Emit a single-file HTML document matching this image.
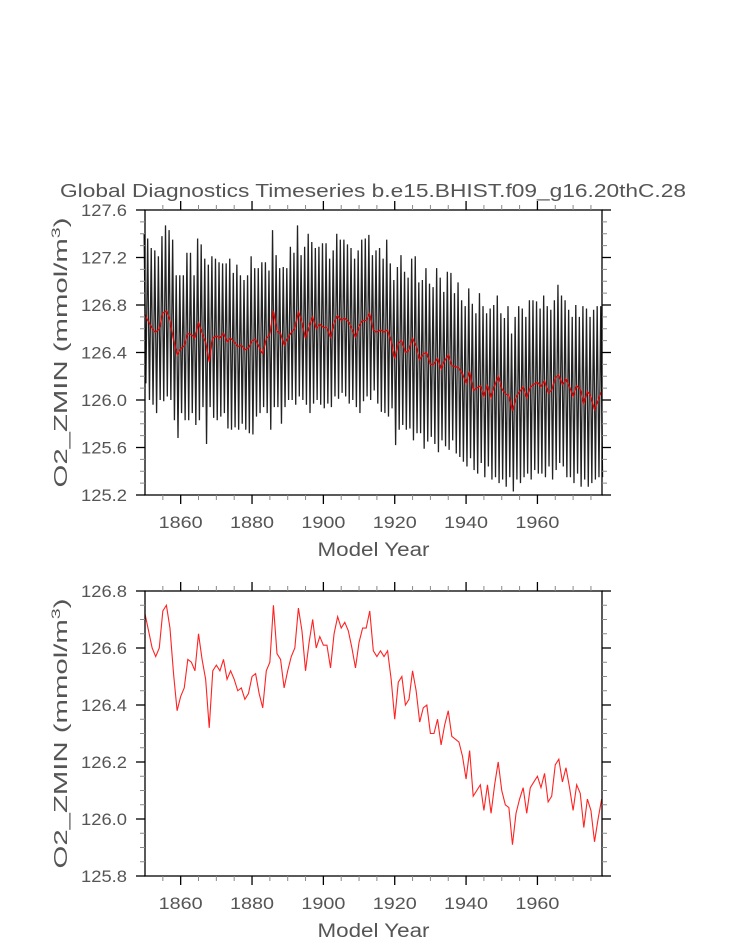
<!DOCTYPE html>
<html><head><meta charset="utf-8"><style>
html,body{margin:0;padding:0;background:#fff;}
svg{display:block;font-family:"Liberation Sans",sans-serif;}
</style></head><body>
<svg id="chart" width="733" height="945" viewBox="0 0 733 945" xmlns="http://www.w3.org/2000/svg">
<text x="373" y="197" text-anchor="middle" font-size="18" fill="#555" textLength="626" lengthAdjust="spacingAndGlyphs">Global Diagnostics Timeseries b.e15.BHIST.f09_g16.20thC.28</text>
<g id="top"></g>
<g id="bot"></g>
</svg>
<script>
const annualMean = [126.72,126.66,126.60,126.57,126.60,126.73,126.75,126.67,126.51,126.38,126.43,126.46,126.56,126.55,126.52,126.65,126.56,126.49,126.32,126.52,126.54,126.52,126.56,126.49,126.52,126.49,126.45,126.46,126.42,126.44,126.50,126.51,126.44,126.39,126.52,126.55,126.75,126.58,126.56,126.46,126.52,126.57,126.60,126.74,126.66,126.52,126.62,126.70,126.60,126.64,126.61,126.61,126.53,126.65,126.71,126.67,126.69,126.66,126.60,126.53,126.62,126.67,126.67,126.73,126.59,126.57,126.59,126.57,126.59,126.49,126.35,126.48,126.50,126.40,126.42,126.52,126.45,126.34,126.39,126.40,126.30,126.30,126.35,126.26,126.33,126.38,126.29,126.28,126.27,126.22,126.14,126.24,126.08,126.10,126.12,126.03,126.12,126.02,126.12,126.20,126.10,126.05,126.04,125.91,126.02,126.07,126.11,126.02,126.11,126.13,126.15,126.11,126.16,126.06,126.08,126.19,126.21,126.13,126.18,126.11,126.03,126.12,126.09,125.97,126.07,126.03,125.92,126.00,126.07];
const annualMax = [127.40,127.36,127.28,127.26,127.21,127.38,127.47,127.43,127.35,127.05,127.05,127.05,127.24,127.24,127.05,127.36,127.31,127.19,127.14,127.21,127.19,127.16,127.15,127.15,127.19,127.07,127.14,127.05,127.01,127.05,127.21,127.11,127.11,127.16,127.16,127.09,127.43,127.22,127.11,127.12,127.11,127.29,127.24,127.47,127.22,127.29,127.40,127.33,127.28,127.29,127.32,127.32,127.19,127.26,127.40,127.35,127.35,127.31,127.28,127.19,127.26,127.35,127.36,127.39,127.22,127.26,127.28,127.19,127.35,127.15,127.01,127.12,127.22,127.08,127.03,127.19,127.21,126.99,127.01,127.11,126.98,126.95,127.11,127.03,126.91,127.08,127.07,126.90,126.99,126.84,126.79,126.94,126.81,126.73,126.90,126.79,126.73,126.77,126.80,126.88,126.73,126.69,126.79,126.56,126.70,126.79,126.77,126.70,126.84,126.84,126.83,126.77,126.88,126.79,126.76,126.84,126.97,126.88,126.84,126.76,126.70,126.80,126.70,126.79,126.77,126.70,126.76,126.79,126.79];
const annualMin = [126.14,126.00,125.96,125.89,126.00,125.99,126.03,126.00,125.83,125.68,125.89,125.83,125.83,125.89,125.79,125.83,125.94,125.63,125.94,125.85,125.83,125.86,125.89,125.76,125.75,125.77,125.75,125.80,125.75,125.72,125.71,125.86,125.89,125.94,125.89,125.75,125.94,125.94,125.80,125.94,126.00,126.00,125.96,126.03,126.00,125.96,125.89,125.97,126.00,125.96,125.93,125.97,125.94,126.03,126.01,126.06,126.03,125.97,126.00,125.94,125.89,125.99,126.03,126.00,126.08,125.97,125.90,125.89,125.86,125.93,125.62,125.75,125.79,125.75,125.76,125.66,125.72,125.72,125.59,125.65,125.69,125.63,125.56,125.66,125.61,125.58,125.66,125.55,125.52,125.48,125.44,125.51,125.41,125.38,125.47,125.35,125.44,125.33,125.35,125.30,125.33,125.27,125.35,125.23,125.33,125.30,125.35,125.38,125.33,125.41,125.38,125.38,125.35,125.44,125.33,125.41,125.47,125.44,125.35,125.35,125.30,125.38,125.27,125.33,125.27,125.30,125.33,125.35,125.35];
const startYear = 1850;
const xTickLabels = [1860,1880,1900,1920,1940,1960];
const topYTicks = [125.2,125.6,126.0,126.4,126.8,127.2,127.6];
const botYTicks = [125.8,126.0,126.2,126.4,126.6,126.8];

const NS = "http://www.w3.org/2000/svg";
function mk(tag, attrs, parent){const e=document.createElementNS(NS,tag);for(const k in attrs)e.setAttribute(k,attrs[k]);parent.appendChild(e);return e;}

function panel(g, box, ymin, ymax, yMajors, yMinorStep, drawSeries){
  const x0=1850.5, x1=1978.6;
  const X = v => box.l + (v - x0)/(x1-x0)*(box.r-box.l);
  const Y = v => box.b - (v - ymin)/(ymax-ymin)*(box.b-box.t);
  drawSeries(X,Y);
  const fr = mk('rect',{x:box.l,y:box.t,width:box.r-box.l,height:box.b-box.t,fill:'none',stroke:'#000','stroke-width':1.3},g);
  
  
  for(let yr=1855; yr<=1975; yr+=5){
    const major = yr%20===0;
    const x=X(yr+0.5), L= major?9:5, c= major?'#000':'#888';
    mk('line',{x1:x,x2:x,y1:box.b,y2:box.b+L,stroke:c,'stroke-width':major?1.3:1},g);
    mk('line',{x1:x,x2:x,y1:box.t,y2:box.t-L,stroke:c,'stroke-width':major?1.3:1},g);
  }
  xTickLabels.forEach(v=>{
    const t=mk('text',{x:X(v+0.5),y:box.b+33,'text-anchor':'middle','font-size':17,fill:'#555',textLength:44,lengthAdjust:'spacingAndGlyphs'},g);
    t.textContent=v;
    
    
  });
  const n=Math.round((ymax-ymin)/yMinorStep);
  for(let i=0;i<=n;i++){
    const v=ymin+i*yMinorStep, y=Y(v);
    const major = yMajors.some(m=>Math.abs(m-v)<1e-6);
    const L= major?9:5, c= major?'#000':'#888';
    mk('line',{x1:box.l,x2:box.l-L,y1:y,y2:y,stroke:c,'stroke-width':major?1.3:1},g);
    mk('line',{x1:box.r,x2:box.r+L,y1:y,y2:y,stroke:c,'stroke-width':major?1.3:1},g);
  }
  yMajors.forEach(v=>{
    const t=mk('text',{x:box.l-18,y:Y(v)+6,'text-anchor':'end','font-size':17,fill:'#555',textLength:46,lengthAdjust:'spacingAndGlyphs'},g);
    t.textContent=v.toFixed(1);
    
    
  });
  const xt=mk('text',{x:(box.l+box.r)/2,y:box.b+61,'text-anchor':'middle','font-size':19,fill:'#555',textLength:112,lengthAdjust:'spacingAndGlyphs'},g);
  xt.textContent='Model Year';
  
  
  const cy=(box.t+box.b)/2;
  const yt=mk('text',{x:0,y:0,transform:`translate(67,${cy}) rotate(-90)`,'text-anchor':'middle','font-size':18,fill:'#555',textLength:270,lengthAdjust:'spacingAndGlyphs'},g);
  yt.innerHTML='O2_ZMIN (mmol/m<tspan dy="-7" font-size="12">3</tspan><tspan dy="7">)</tspan>';
  
  
}

const topG=document.getElementById('top');
panel(topG,{l:145,r:602,t:210,b:495},125.2,127.6,topYTicks,0.1,(X,Y)=>{
  let pts=[];
  annualMax.forEach((mx,i)=>{
    pts.push(X(startYear+i+0.25).toFixed(2)+','+Y(mx).toFixed(2));
    pts.push(X(startYear+i+0.75).toFixed(2)+','+Y(annualMin[i]).toFixed(2));
  });
  const pl=mk('polyline',{points:pts.join(' '),fill:'none',stroke:'#222','stroke-width':1.3},topG);
  
  
  const rp=annualMean.map((v,i)=>X(startYear+i+0.5).toFixed(2)+','+Y(v).toFixed(2));
  const rl=mk('polyline',{points:rp.join(' '),fill:'none',stroke:'#e00','stroke-width':1.2},topG);
  
  
});

const botG=document.getElementById('bot');
panel(botG,{l:145,r:602,t:591,b:876},125.8,126.8,botYTicks,0.05,(X,Y)=>{
  const rp=annualMean.map((v,i)=>X(startYear+i+0.5).toFixed(2)+','+Y(v).toFixed(2));
  const rl=mk('polyline',{points:rp.join(' '),fill:'none',stroke:'#f22','stroke-width':1.1},botG);
  
  
});
</script>
</body></html>
